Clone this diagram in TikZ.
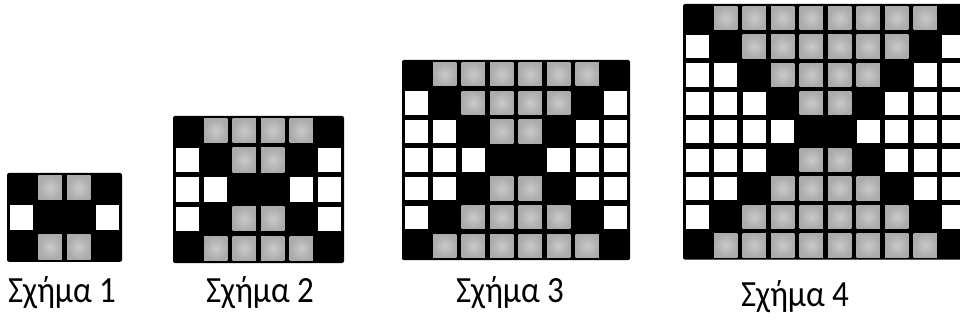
\documentclass[tikz,border=0pt]{standalone}
\usepackage{fontspec}
\usepackage{graphicx}
\setmainfont{Carlito}
\tikzset{
  whitecell/.style={fill=white},
  greycell/.style={shading=radial, inner color=black!21, outer color=black!33},
  blackbg/.style={fill=black, rounded corners=2pt},
  caption/.style={font=\fontsize{33}{38}\selectfont, inner sep=0pt, anchor=center}
}
\def\cellgap{2.6}
\newcommand\patgrid[5]{% #1 x0, #2 y0, #3 cell width, #4 cell height, #5 n
  \pgfmathtruncatemacro\nr{2*#5}%
  \pgfmathtruncatemacro\nc{2*#5+1}%
  \fill[blackbg] (#1,#2) rectangle ({#1+(\nc+1)*#3},{#2+(\nr+1)*#4});
  \foreach \i in {0,...,\nr}{%
    \pgfmathtruncatemacro\k{min(\i,\nr-\i)}%
    \foreach \j in {0,...,\nc}{%
      \pgfmathtruncatemacro\t{(\j<\k || \j>\nc-\k) ? 1 : ((\j==\k || \j==\nc-\k) ? 0 : 2)}%
      \ifnum\t=1
        \path[whitecell] ({#1+\j*#3+\cellgap},{#2+\i*#4+\cellgap}) rectangle ({#1+(\j+1)*#3-\cellgap},{#2+(\i+1)*#4-\cellgap});
      \fi
      \ifnum\t=2
        \path[greycell] ({#1+\j*#3+\cellgap},{#2+\i*#4+\cellgap}) rectangle ({#1+(\j+1)*#3-\cellgap},{#2+(\i+1)*#4-\cellgap});
      \fi
    }%
  }%
}
\newcommand\captxt[1]{\scalebox{1}[1.12]{#1}}
\begin{document}
\begin{tikzpicture}[x=1pt,y=-1pt]
\useasboundingbox (0,0) rectangle (960,320);
\clip (0,0) rectangle (960,320);
\patgrid{7}{173}{28.75}{29.6}{1}
\patgrid{173}{116}{28.5}{29.4}{2}
\patgrid{402}{60}{28.5}{28.6}{3}
\patgrid{683}{4}{28.5}{28.4}{4}
\node[caption] (c1) at (62,293) {\captxt{Σχήμα 1}};
\node[caption] (c2) at (260,293) {\captxt{Σχήμα 2}};
\node[caption] (c3) at (510,293) {\captxt{Σχήμα 3}};
\node[caption] (c4) at (795,297) {\captxt{Σχήμα 4}};
\end{tikzpicture}
\end{document}
